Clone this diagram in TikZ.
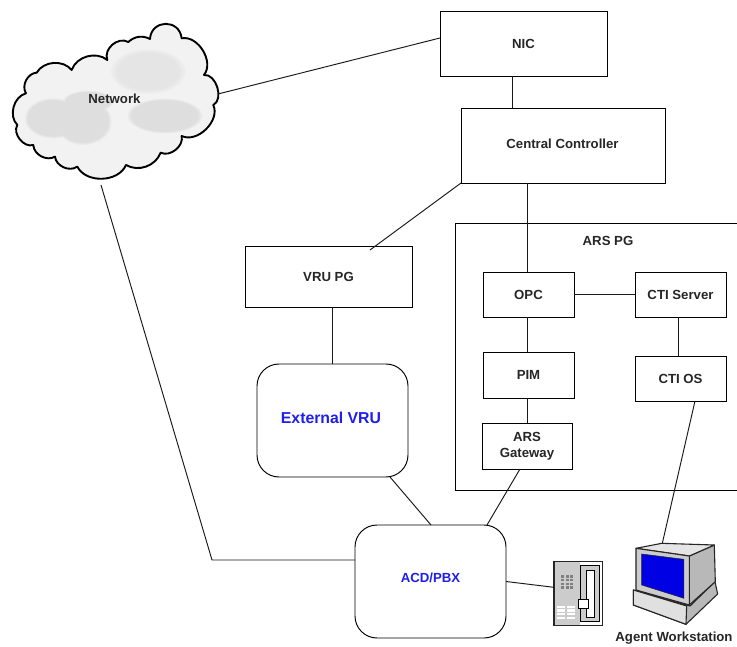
\documentclass[tikz,border=0pt]{standalone}
\usepackage{fontspec}
\setmainfont{Liberation Sans}
\usetikzlibrary{shapes.geometric}
\definecolor{vblue}{RGB}{30,30,240}
\tikzset{
 box/.style={draw=black,line width=0.95pt,fill=white,inner sep=0pt,outer sep=0pt,font=\fontsize{13.2}{15}\selectfont\bfseries,align=center,text=black!85},
 rbox/.style={box,rounded corners=22pt},
 link/.style={draw=black!90,line width=0.95pt},
 tag/.style={inner sep=0pt,font=\fontsize{13.2}{15}\selectfont\bfseries,text=black!85,align=center},
 icon/.style={x=0.3333pt,y=-0.3333pt},
 cloudpath/.style={line join=round},
}
\newcommand{\cloudoutline}{(215,180) to[bend left=55] (322,150) to[bend left=70,looseness=1.1] (385,96) to[bend left=35] (450,87) to[bend left=85,looseness=1.6] (545,85) to[bend left=70] (612,195) to[bend left=80] (640,285) to[bend left=70] (545,378) to[bend left=65] (482,428) to[bend left=50] (378,465) to[bend left=65] (232,470) to[bend left=60] (165,440) to[bend left=60] (100,405) to[bend left=70] (52,345) to[bend left=60] (78,250) to[bend left=60] (110,188) to[bend left=55] cycle}
\begin{document}
\begin{tikzpicture}[x=1pt,y=-1pt]
\useasboundingbox (0,0) rectangle (737,647);
% cloud
\begin{scope}[shift={(0,10)},icon]
\path[fill=black!5] \cloudoutline;
\foreach \s/\c in {1/7,0.95/8,0.9/9,0.85/10}{
 \fill[black!\c] (445,185) ellipse [x radius=112*\s, y radius=66*\s];
}
\foreach \s/\c in {1/8,0.96/10,0.92/12,0.88/13}{
 \fill[black!\c] (160,325) ellipse [x radius=85*\s, y radius=60*\s];
 \fill[black!\c] (250,335) ellipse [x radius=85*\s, y radius=70*\s];
 \fill[black!\c] (265,275) ellipse [x radius=75*\s, y radius=32*\s];
 \fill[black!\c] (495,318) ellipse [x radius=112*\s, y radius=52*\s];
}
\draw[black,line width=1.9pt,cloudpath] \cloudoutline;
\end{scope}
\node[tag] (net) at (114.5,99) {Network};
\coordinate (netr) at (218,94);
\coordinate (netb) at (101,185);
\coordinate (bend) at (212,560);
% boxes
\node[box,minimum width=167pt,minimum height=65pt] (nic) at (523.5,43.5) {NIC};
\node[box,minimum width=204pt,minimum height=75pt] (cc) at (563,145.5) {};
\node[tag] at (562.5,144) {Central Controller};
\draw[line width=0.95pt,draw=black] (737,223.5) -- (455.5,223.5) -- (455.5,490.5) -- (737,490.5);
\node[tag] (ars) at (608,241) {ARS PG};
\node[box,minimum width=167pt,minimum height=61pt] (vru) at (328.5,276.5) {VRU PG};
\node[box,minimum width=91pt,minimum height=45pt] (opc) at (528.5,294.5) {OPC};
\node[box,minimum width=91pt,minimum height=45pt] (cti) at (680.5,294.5) {CTI Server};
\node[box,minimum width=91pt,minimum height=46pt] (pim) at (528.5,375) {PIM};
\node[box,minimum width=91pt,minimum height=45pt] (ctios) at (680.5,378.5) {CTI OS};
\node[box,minimum width=90pt,minimum height=46pt] (gw) at (527,446) {ARS\\[1pt]Gateway};
\node[rbox,minimum width=151pt,minimum height=113pt] (ext) at (332.5,420.5) {};
\node[tag,text=vblue,font=\fontsize{15.8}{18}\selectfont\bfseries] (extl) at (331,418) {External VRU};
\node[rbox,minimum width=151pt,minimum height=113pt] (acd) at (430.5,581.5) {};
\node[tag,text=vblue] (acdl) at (430.5,578) {ACD/PBX};
% workstation
\begin{scope}[shift={(530,520)},icon]
\filldraw[fill=black!28,draw=black!85,line width=1.1pt,line join=round] (310,210) -- (480,258) -- (555,185) -- (563,222) -- (468,313) -- (310,255) -- cycle;
\filldraw[fill=black!12,draw=black!85,line width=1.1pt,line join=round] (310,210) -- (470,258) -- (468,313) -- (310,255) -- cycle;
\filldraw[fill=black!28,draw=black!85,line width=1.1pt,line join=round] (478,108) -- (553,75) -- (556,185) -- (478,255) -- cycle;
\filldraw[fill=black!10,draw=black!85,line width=1.1pt,line join=round] (318,85) -- (395,70) -- (553,75) -- (478,108) -- cycle;
\filldraw[fill=black!20,draw=black!85,line width=1.1pt,line join=round] (318,85) -- (478,108) -- (478,255) -- (318,210) -- cycle;
\fill[blue!90!black,draw=black!85,line width=0.5pt] (335,102) -- (462,118) -- (462,235) -- (335,195) -- cycle;
\coordinate (wstop) at (397,70);
\end{scope}
\node[tag] (agent) at (674,638) {Agent Workstation};
% phone
\begin{scope}[shift={(530,520)},icon]
\fill[black!20] (72,124) rectangle (150,317);
\fill[white] (150,124) rectangle (217,317);
\foreach \c in {0,1,2}{\foreach \r in {0,1,2,3}{\fill[black!50] (93+\c*14,166+\r*11) rectangle +(9,7);}}
\foreach \c in {0,1}{\foreach \r in {0,1,2,3}{\fill[white] (80+\c*30,257+\r*11) rectangle +(24,7);}}
\filldraw[fill=black!20,draw=black,line width=0.9pt] (152,135) -- (208,135) -- (208,305) -- (152,305) -- cycle;
\filldraw[fill=white,draw=black,line width=0.9pt] (168,150) -- (192,150) -- (192,292) -- (168,292) -- cycle;
\filldraw[fill=white,draw=black,line width=0.9pt] (145,237) rectangle (174,265);
\draw[black!85,line width=1.3pt] (72,124) rectangle (217,317);
\coordinate (phl) at (72,202);
\end{scope}
% connectors
\coordinate (x512) at (512,0);
\coordinate (x527) at (527,0);
\coordinate (x332) at (332,0);
\coordinate (x678) at (678,0);
\draw[link] (netr) -- ([yshift=5.5pt]nic.west);
\draw[link] (nic.south -| x512) -- (cc.north -| x512);
\draw[link] (cc.south west) -- ([xshift=41.5pt,yshift=-4pt]vru.north);
\draw[link] (cc.south -| x527) -- (opc.north -| x527);
\draw[link] (opc) -- (cti);
\draw[link] (opc.south -| x527) -- (pim.north -| x527);
\draw[link] (pim.south -| x527) -- (gw.north -| x527);
\draw[link] (cti.south -| x678) -- (ctios.north -| x678);
\draw[link] ([xshift=14.5pt]ctios.south) -- (wstop);
\draw[link] (vru.south -| x332) -- (ext.north -| x332);
\draw[link] ([xshift=57.5pt]ext.south) -- ([xshift=0.5pt]acd.north);
\draw[link] ([xshift=-7pt]gw.south) -- ([xshift=56.5pt]acd.north);
\draw[link] (netb) -- (bend) -- (acd.west |- bend);
\draw[link] (acd.east) -- (phl);
\end{tikzpicture}
\end{document}
